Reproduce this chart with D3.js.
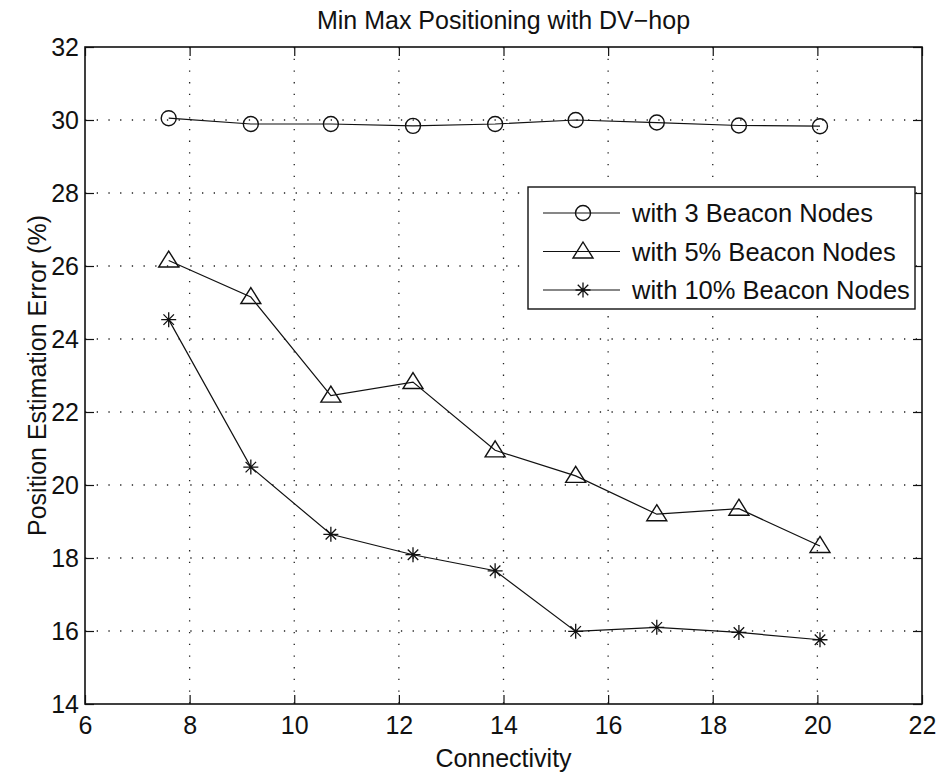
<!DOCTYPE html>
<html>
<head>
<meta charset="utf-8">
<script src="https://cdn.jsdelivr.net/npm/d3@7"></script>
<style>
  body { margin: 0; background: #fff; }
  text { font-family: "Liberation Sans", Arial, sans-serif; fill: #111; }
</style>
</head>
<body>
<div id="chart"></div>
<script>
// connectivity values (shared by all three runs)
const connectivity = [7.6, 9.17, 10.7, 12.27, 13.84, 15.38, 16.93, 18.5, 20.05];
const beacon3 = [30.05, 29.89, 29.89, 29.84, 29.89, 30.0, 29.93, 29.85, 29.83];
const beacon5pct = [26.15, 25.15, 22.45, 22.82, 20.95, 20.25, 19.2, 19.35, 18.33];
const beacon10pct = [24.53, 20.49, 18.65, 18.09, 17.65, 15.99, 16.1, 15.96, 15.76];
const seriesNames = ["with 3 Beacon Nodes", "with 5% Beacon Nodes", "with 10% Beacon Nodes"];
const xTicks = [6, 8, 10, 12, 14, 16, 18, 20, 22];
const yTicks = [14, 16, 18, 20, 22, 24, 26, 28, 30, 32];

const width = 938, height = 775;
const margin = {left: 85, right: 16, top: 47, bottom: 71};
const fontSize = 25;

const svg = d3.select("#chart").append("svg")
    .attr("width", width).attr("height", height);

const x = d3.scaleLinear().domain([6, 22]).range([margin.left, width - margin.right]);
const y = d3.scaleLinear().domain([14, 32]).range([height - margin.bottom, margin.top]);

// dotted grid
const grid = svg.append("g").attr("class", "grid");
grid.selectAll("line.gx")
    .data(xTicks.slice(1, -1))
    .enter().append("line")
    .attr("x1", d => x(d)).attr("x2", d => x(d))
    .attr("y1", y(32)).attr("y2", y(14))
    .attr("stroke", "#222").attr("stroke-width", 1.3)
    .attr("stroke-dasharray", "1.3,10.4");
grid.selectAll("line.gy")
    .data(yTicks.slice(1, -1))
    .enter().append("line")
    .attr("x1", x(6)).attr("x2", x(22))
    .attr("y1", d => y(d)).attr("y2", d => y(d))
    .attr("stroke", "#222").attr("stroke-width", 1.3)
    .attr("stroke-dasharray", "1.3,10.4");

// axes with inward ticks on all four sides
const tickLen = 9;
svg.append("g")
    .attr("transform", `translate(0,${y(14)})`)
    .call(d3.axisBottom(x).tickValues(xTicks).tickSizeInner(-tickLen).tickSizeOuter(0).tickPadding(12))
    .call(g => g.select(".domain").remove());
svg.append("g")
    .attr("transform", `translate(0,${y(32)})`)
    .call(d3.axisTop(x).tickValues(xTicks).tickSizeInner(-tickLen).tickSizeOuter(0).tickFormat(""))
    .call(g => g.select(".domain").remove());
svg.append("g")
    .attr("transform", `translate(${x(6)},0)`)
    .call(d3.axisLeft(y).tickValues(yTicks).tickSizeInner(-tickLen).tickSizeOuter(0).tickPadding(6))
    .call(g => g.select(".domain").remove());
svg.append("g")
    .attr("transform", `translate(${x(22)},0)`)
    .call(d3.axisRight(y).tickValues(yTicks).tickSizeInner(-tickLen).tickSizeOuter(0).tickFormat(""))
    .call(g => g.select(".domain").remove());

svg.selectAll(".tick line").attr("stroke", "#111").attr("stroke-width", 1.2);
svg.selectAll(".tick text")
    .attr("font-size", fontSize)
    .attr("font-family", "Liberation Sans, Arial, sans-serif")
    .attr("fill", "#111");

// frame
svg.append("rect")
    .attr("x", x(6)).attr("y", y(32))
    .attr("width", x(22) - x(6)).attr("height", y(14) - y(32))
    .attr("fill", "none").attr("stroke", "#111").attr("stroke-width", 1.6);

// titles
svg.append("text")
    .attr("x", (x(6) + x(22)) / 2).attr("y", 29)
    .attr("text-anchor", "middle").attr("font-size", fontSize)
    .text("Min Max Positioning with DV\u2212hop");
svg.append("text")
    .attr("x", (x(6) + x(22)) / 2).attr("y", 767)
    .attr("text-anchor", "middle").attr("font-size", fontSize)
    .text("Connectivity");
svg.append("text")
    .attr("transform", `translate(46,${(y(14) + y(32)) / 2}) rotate(-90)`)
    .attr("text-anchor", "middle").attr("font-size", fontSize)
    .text("Position Estimation Error (%)");

// markers
function drawMarker(sel, kind) {
    if (kind === 0) {
        sel.append("circle").attr("r", 7.5)
            .attr("fill", "none").attr("stroke", "#111").attr("stroke-width", 1.4);
    } else if (kind === 1) {
        sel.append("path").attr("d", "M0,-9.5 L10,6.5 L-10,6.5 Z")
            .attr("fill", "none").attr("stroke", "#111").attr("stroke-width", 1.4);
    } else {
        const r = 7.5;
        sel.append("path")
            .attr("d", `M${-r},0L${r},0M0,${-r}L0,${r}M${-r * 0.7},${-r * 0.7}L${r * 0.7},${r * 0.7}M${-r * 0.7},${r * 0.7}L${r * 0.7},${-r * 0.7}`)
            .attr("fill", "none").attr("stroke", "#111").attr("stroke-width", 1.3);
    }
}

const allSeries = [beacon3, beacon5pct, beacon10pct];
const line = d3.line().x((d, i) => x(connectivity[i])).y(d => y(d));

allSeries.forEach((vals, k) => {
    svg.append("path")
        .datum(vals)
        .attr("d", line)
        .attr("fill", "none").attr("stroke", "#111").attr("stroke-width", 1.2);
    svg.append("g").selectAll("g")
        .data(vals)
        .enter().append("g")
        .attr("transform", (d, i) => `translate(${x(connectivity[i])},${y(d)})`)
        .each(function () { drawMarker(d3.select(this), k); });
});

// legend
const legend = svg.append("g").attr("transform", "translate(528,187)");
legend.append("rect")
    .attr("width", 387).attr("height", 122)
    .attr("fill", "#fff").attr("stroke", "#111").attr("stroke-width", 1.4);
seriesNames.forEach((name, k) => {
    const row = legend.append("g").attr("transform", `translate(0,${26 + k * 38.5})`);
    row.append("line").attr("x1", 15).attr("x2", 92).attr("y1", 0).attr("y2", 0)
        .attr("stroke", "#111").attr("stroke-width", 1.2);
    const m = row.append("g").attr("transform", "translate(55,0)");
    drawMarker(m, k);
    row.append("text").attr("x", 104).attr("y", 9)
        .attr("font-size", 25.5).text(name);
});
</script>
</body>
</html>
